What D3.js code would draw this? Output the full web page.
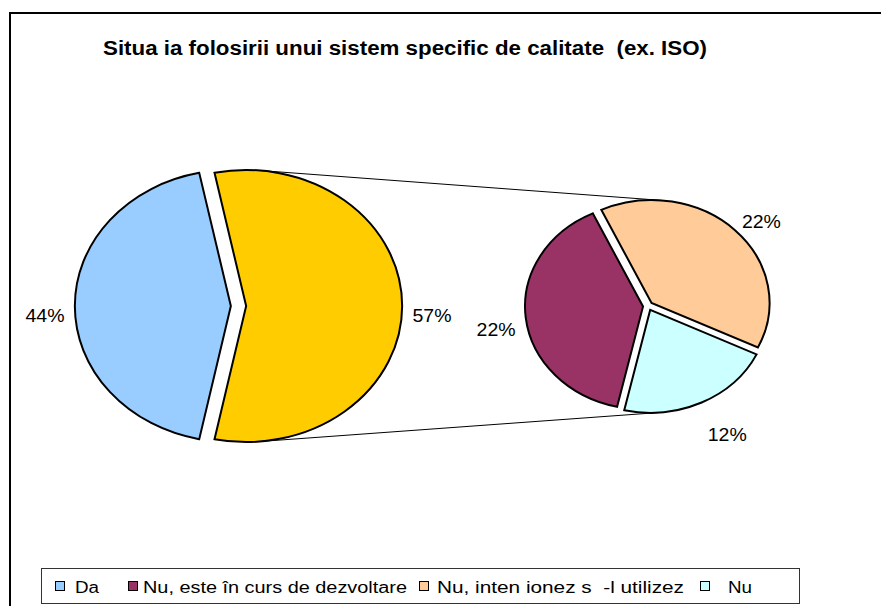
<!DOCTYPE html>
<html><head><meta charset="utf-8">
<script src="https://cdn.jsdelivr.net/npm/d3@7"></script>
<style>
html,body{margin:0;background:#fff;overflow:hidden}
svg{display:block}
text{font-family:Arial,"Liberation Sans",sans-serif;fill:#000;white-space:pre}
</style>
</head><body>
<svg id="c" width="881" height="606"></svg>
<script>
// ---------- data ----------
const title = "Situa ia folosirii unui sistem specific de calitate  (ex. ISO)";
const categories = ["Da", "Nu, este în curs de dezvoltare", "Nu, inten ionez s  -l utilizez", "Nu"];
const values = [43.5, 22.3, 22.1, 12.1];           // percent of respondents
const colors = ["#99CCFF", "#993366", "#FFCC99", "#CCFFFF"];
const otherColor = "#FFCC00";                       // "Other" slice of main pie

// ---------- layout ----------
const W = 881, H = 606;
const k = 0.872;                                    // vertical squash of the pies
const mainC = [238.5, 306], mainR = 156, mainExplode = 7.65;
const secC = [648, 306], secR = 118, secExplode = 5;
const secStartDeg = 192.7;
const labelGap = 10.35, labelW = 39, labelH = 14;
const labelNudge = { main: [[0,0],[0,0]], sec: [[0,1],[5,-6],[12.6,7.2]] };
const legendBox = {x: 41.5, y: 568.5, w: 758, h: 35};
const legendItems = [
  {sq: 55, tx: 75, tw: 24},
  {sq: 128, tx: 143, tw: 264},
  {sq: 419, tx: 437, tw: 247},
  {sq: 700, tx: 728, tw: 24}
];

const svg = d3.select("#c");
const total = d3.sum(values);
const pct = v => Math.round(v / total * 100 + 1e-9) + "%";

// outer frame
svg.append("rect").attr("x", 10).attr("y", 13).attr("width", 2000).attr("height", 2000)
  .attr("fill", "none").attr("stroke", "#000").attr("stroke-width", 2);

// title
svg.append("text").attr("x", 103).attr("y", 55)
  .attr("font-size", 19.5).attr("font-weight", "bold")
  .attr("textLength", 604).attr("lengthAdjust", "spacingAndGlyphs")
  .text(title);

// ---------- pies ----------
const otherVal = d3.sum(values.slice(1));
const mainVals = [otherVal, values[0]];            // other, Da
const mainFills = [otherColor, colors[0]];
const otherSpan = 2 * Math.PI * otherVal / total;
const mainStart = Math.PI / 2 - otherSpan / 2;
const mainArcs = d3.pie().sort(null).startAngle(mainStart).endAngle(mainStart + 2 * Math.PI)(mainVals);

const secVals = values.slice(1);
const secFills = colors.slice(1);
const secStart = secStartDeg * Math.PI / 180;
const secArcs = d3.pie().sort(null).startAngle(secStart).endAngle(secStart + 2 * Math.PI)(secVals);

const mid = d => (d.startAngle + d.endAngle) / 2;

function drawPie(C, R, explode, arcs, fills) {
  const g = svg.append("g").attr("transform", `translate(${C[0]},${C[1]}) scale(1,${k})`);
  const arc = d3.arc().innerRadius(0).outerRadius(R);
  g.selectAll("path").data(arcs).join("path")
    .attr("d", arc)
    .attr("transform", d => `translate(${explode * Math.sin(mid(d))},${-explode * Math.cos(mid(d))})`)
    .attr("fill", (d, i) => fills[i])
    .attr("stroke", "#000").attr("stroke-width", 2)
    .attr("stroke-linejoin", "miter")
    .attr("vector-effect", "non-scaling-stroke");
}
drawPie(mainC, mainR, mainExplode, mainArcs, mainFills);
drawPie(secC, secR, secExplode, secArcs, secFills);

function sliceCenter(C, explode, d) {
  return [C[0] + explode * Math.sin(mid(d)), C[1] / k - explode * Math.cos(mid(d))];
}
function extTangent(c1, r1, c2, r2, top) {
  const dx = c2[0] - c1[0], dy = c2[1] - c1[1], L = Math.hypot(dx, dy), b = Math.atan2(dy, dx);
  const a0 = Math.acos((r2 - r1) / L);
  for (const a of [b + a0, b - a0]) {
    const n = [Math.cos(a), Math.sin(a)];
    if ((top && n[1] > 0) || (!top && n[1] < 0)) {
      return [[c1[0] - r1 * n[0], (c1[1] - r1 * n[1]) * k], [c2[0] - r2 * n[0], (c2[1] - r2 * n[1]) * k]];
    }
  }
}
function containing(arcs, ang) {
  return arcs.find(d => {
    let a = ang; while (a < d.startAngle) a += 2 * Math.PI;
    return a <= d.endAngle;
  });
}
const oc = sliceCenter(mainC, mainExplode, mainArcs[0]);
const topSlice = containing(secArcs, 0), botSlice = containing(secArcs, Math.PI);
const tl = extTangent(oc, mainR, sliceCenter(secC, secExplode, topSlice), secR, true);
const bl = extTangent(oc, mainR, sliceCenter(secC, secExplode, botSlice), secR, false);
svg.selectAll("line.conn").data([tl, bl]).join("line").attr("class", "conn")
  .attr("x1", d => d[0][0]).attr("y1", d => d[0][1])
  .attr("x2", d => d[1][0]).attr("y2", d => d[1][1])
  .attr("stroke", "#000").attr("stroke-width", 1);

// ---------- labels ----------
function labelPos(C, R, explode, d, nudge) {
  const m = mid(d), s = Math.sin(m), c = Math.cos(m);
  const cx = C[0] + explode * s, cy = C[1] - explode * k * c;
  const px = cx + (R + labelGap) * s, py = cy - (R * k + labelGap) * c;
  return [px + s * labelW / 2 + nudge[0], py - c * labelH / 2 + 9 + nudge[1]];
}
const labels = [];
mainArcs.forEach((d, i) => labels.push({t: pct(d.data), p: labelPos(mainC, mainR, mainExplode, d, labelNudge.main[i])}));
secArcs.forEach((d, i) => labels.push({t: pct(d.data), p: labelPos(secC, secR, secExplode, d, labelNudge.sec[i])}));
svg.selectAll("text.lbl").data(labels).join("text").attr("class", "lbl")
  .attr("x", d => d.p[0]).attr("y", d => d.p[1] + 6.6)
  .attr("text-anchor", "middle").attr("font-size", 18.5)
  .attr("textLength", labelW).attr("lengthAdjust", "spacingAndGlyphs")
  .text(d => d.t);

// ---------- legend ----------
svg.append("rect").attr("x", legendBox.x).attr("y", legendBox.y)
  .attr("width", legendBox.w).attr("height", legendBox.h)
  .attr("fill", "#fff").attr("stroke", "#333").attr("stroke-width", 1);
const lg = svg.selectAll("g.li").data(categories).join("g").attr("class", "li");
lg.append("rect")
  .attr("x", (d, i) => legendItems[i].sq + 0.5).attr("y", 581.5)
  .attr("width", 9).attr("height", 9)
  .attr("fill", (d, i) => colors[i]).attr("stroke", "#000").attr("stroke-width", 1);
lg.append("text")
  .attr("x", (d, i) => legendItems[i].tx).attr("y", 592.5)
  .attr("font-size", 16)
  .attr("textLength", (d, i) => legendItems[i].tw).attr("lengthAdjust", "spacingAndGlyphs")
  .text(d => d);
</script>
</body></html>
